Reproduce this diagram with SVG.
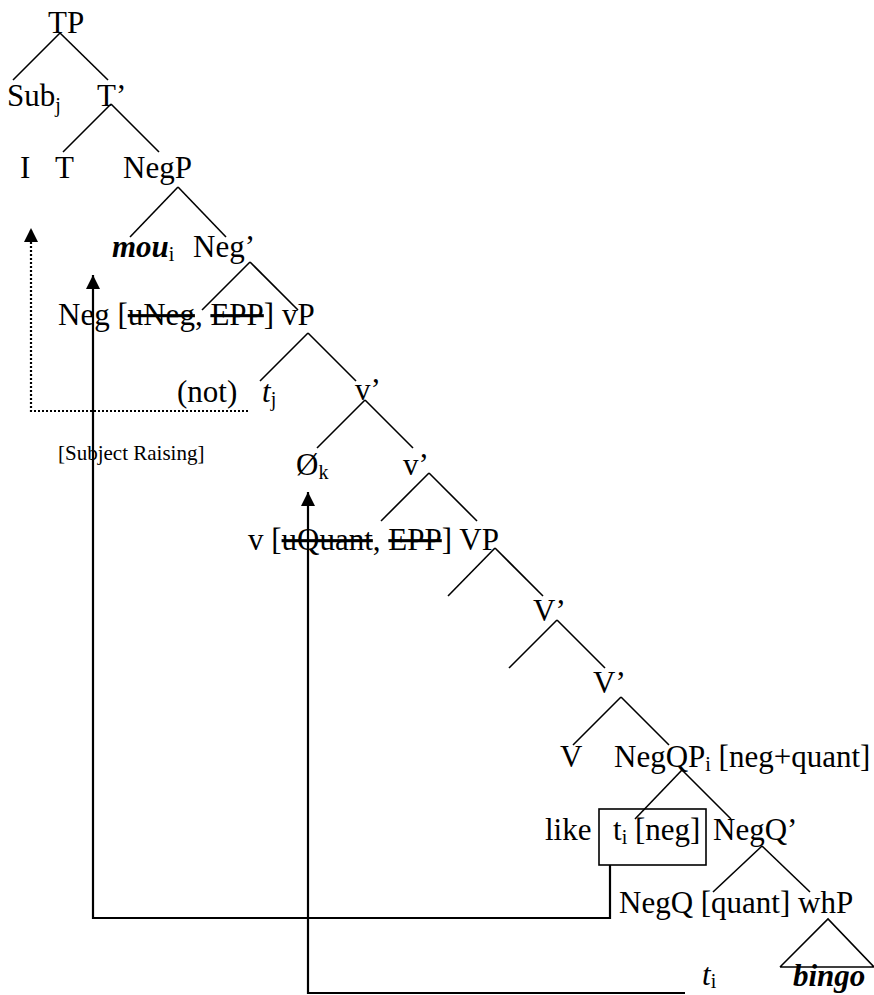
<svg xmlns="http://www.w3.org/2000/svg" width="874" height="995" viewBox="0 0 874 995">
<style>
text{font-family:"Liberation Serif","Times New Roman",serif;font-size:31px;fill:#000}
.sub{font-size:20px}
.small{font-size:21px}
.it{font-style:italic}
.bi{font-style:italic;font-weight:bold}
.strike{text-decoration:line-through}
.br line,.br polyline{stroke:#000;stroke-width:1.6;fill:none}
.mv{stroke:#000;stroke-width:2.2;fill:none}
.dot{stroke:#000;stroke-width:2.2;fill:none;stroke-dasharray:2 2}
</style>
<defs>
<marker id="ah" viewBox="0 0 10 10" refX="10" refY="5" markerWidth="15" markerHeight="14" markerUnits="userSpaceOnUse" orient="auto">
<path d="M0,0 L10,5 L0,10 Z" fill="#000"/>
</marker>
</defs>
<rect width="874" height="995" fill="#fff"/>
<g id="branches" class="br">
<line x1="60" y1="33" x2="13" y2="80"/>
<line x1="60" y1="33" x2="108" y2="80"/>
<line x1="111" y1="104" x2="63" y2="152"/>
<line x1="111" y1="104" x2="159" y2="152"/>
<line x1="178" y1="187" x2="130" y2="237"/>
<line x1="178" y1="187" x2="226" y2="237"/>
<line x1="250" y1="262" x2="202" y2="310"/>
<line x1="250" y1="262" x2="298" y2="310"/>
<line x1="308" y1="333" x2="260" y2="381"/>
<line x1="308" y1="333" x2="356" y2="381"/>
<line x1="365" y1="400" x2="317" y2="448"/>
<line x1="365" y1="400" x2="413" y2="448"/>
<line x1="429" y1="473" x2="381" y2="521"/>
<line x1="429" y1="473" x2="477" y2="521"/>
<line x1="495" y1="548" x2="448" y2="596"/>
<line x1="495" y1="548" x2="543" y2="596"/>
<line x1="557" y1="620" x2="509" y2="668"/>
<line x1="557" y1="620" x2="605" y2="668"/>
<line x1="621" y1="697" x2="573" y2="745"/>
<line x1="621" y1="697" x2="669" y2="745"/>
<line x1="682" y1="770" x2="635" y2="819"/>
<line x1="682" y1="770" x2="731" y2="819"/>
<line x1="762" y1="846" x2="713" y2="892"/>
<line x1="762" y1="846" x2="810" y2="892"/>
<polyline points="780,967 828,919 874,967 780,967"/>
</g>
<g id="connectors">
<polyline class="dot" points="248,411 31,411 31,228" marker-end="url(#ah)"/>
<polyline class="mv" points="610,865 610,918 93,918 93,275" marker-end="url(#ah)"/>
<polyline class="mv" points="685,993 308,993 308,492" marker-end="url(#ah)"/>
</g>
<g id="n-TP"><text x="48" y="33">TP</text></g>
<g id="n-Sub"><text x="7" y="106">Sub<tspan class="sub" dy="6">j</tspan></text></g>
<g id="n-Tbar"><text x="97" y="106">T’</text></g>
<g id="n-I"><text x="20" y="178">I</text></g>
<g id="n-T"><text x="55" y="178">T</text></g>
<g id="n-NegP"><text x="123" y="178">NegP</text></g>
<g id="n-mou"><text x="112" y="257"><tspan class="bi">mou</tspan><tspan class="sub" dy="4">i</tspan></text></g>
<g id="n-Negbar"><text x="193" y="257">Neg’</text></g>
<g id="n-Neg"><text x="58" y="325">Neg [<tspan class="strike">uNeg</tspan>, <tspan class="strike">EPP</tspan>] vP</text></g>
<g id="n-not"><text x="177" y="402">(not)</text></g>
<g id="n-tj"><text x="262" y="402"><tspan class="it">t</tspan><tspan class="sub" dy="4">j</tspan></text></g>
<g id="n-vbar1"><text x="355" y="400">v’</text></g>
<g id="n-subjraise"><text class="small" x="58" y="460">[Subject Raising]</text></g>
<g id="n-O"><text x="296" y="475">Ø<tspan class="sub" dy="4">k</tspan></text></g>
<g id="n-vbar2"><text x="403" y="475">v’</text></g>
<g id="n-v"><text x="248" y="550">v [<tspan class="strike">uQuant</tspan>, <tspan class="strike">EPP</tspan>] VP</text></g>
<g id="n-Vbar1"><text x="533" y="621">V’</text></g>
<g id="n-Vbar2"><text x="593" y="693">V’</text></g>
<g id="n-V"><text x="560" y="767">V</text></g>
<g id="n-NegQP"><text x="614" y="767">NegQP<tspan class="sub" dy="4">i</tspan><tspan dy="-4"> [neg+quant]</tspan></text></g>
<g id="n-like"><text x="545" y="840">like</text></g>
<g id="n-ti-box"><rect x="599" y="809" width="107" height="56" fill="none" stroke="#000" stroke-width="1.6"/><text x="613" y="840">t<tspan class="sub" dy="4">i</tspan><tspan dy="-4"> [neg]</tspan></text></g>
<g id="n-NegQbar"><text x="713" y="840">NegQ’</text></g>
<g id="n-NegQ"><text x="619" y="913">NegQ [quant] whP</text></g>
<g id="n-ti"><text x="702" y="985"><tspan class="it">t</tspan><tspan class="sub" dy="3">i</tspan></text></g>
<g id="n-bingo"><text x="793" y="986" class="bi">bingo</text></g>
</svg>
